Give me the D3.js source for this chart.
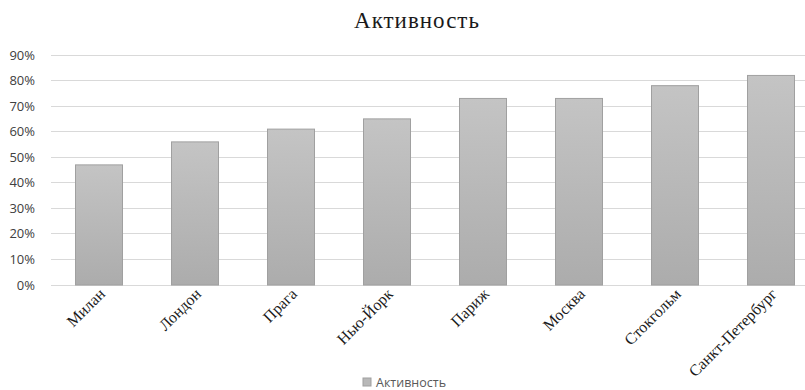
<!DOCTYPE html>
<html><head><meta charset="utf-8">
<script src="https://cdn.jsdelivr.net/npm/d3@7"></script>
<style>body{margin:0;background:#fff}svg{display:block}</style>
</head><body>
<svg id="chart" width="805" height="390"></svg>
<script>
const categories = ["Милан","Лондон","Прага","Нью-Йорк","Париж","Москва","Стокгольм","Санкт-Петербург"];
const values = [0.47,0.56,0.61,0.65,0.73,0.73,0.78,0.82];
const yTicks = [0,0.1,0.2,0.3,0.4,0.5,0.6,0.7,0.8,0.9];
const seriesName = "Активность";
const title = "Активность";

const svg = d3.select("#chart");
const x = d3.scaleBand().domain(categories).range([51, 819]).paddingInner(0.5).paddingOuter(0.25);
const y = d3.scaleLinear().domain([0, 0.9]).range([284.5, 54.5]);

const defs = svg.append("defs");
const grad = defs.append("linearGradient").attr("id","bg").attr("x1",0).attr("y1",0).attr("x2",0).attr("y2",1);
grad.append("stop").attr("offset","0%").attr("stop-color","#c4c4c4");
grad.append("stop").attr("offset","100%").attr("stop-color","#acacac");

svg.append("text").attr("x",417).attr("y",28).attr("text-anchor","middle")
  .attr("font-family","Liberation Serif, serif").attr("font-size",23).attr("letter-spacing",1)
  .attr("fill","#1a1a1a").text(title);

// gridlines
svg.append("g").selectAll("line").data(yTicks).join("line")
  .attr("x1",51).attr("x2",805).attr("y1",d=>Math.round(y(d))+0.5).attr("y2",d=>Math.round(y(d))+0.5)
  .attr("stroke","#d9d9d9").attr("stroke-width",1);

// y axis labels
const yAxis = d3.axisLeft(y).tickValues(yTicks).tickFormat(d3.format(".0%")).tickSize(0).tickPadding(0);
const gy = svg.append("g").attr("transform","translate(35,0)").call(yAxis);
gy.select(".domain").remove();
gy.selectAll("text").attr("font-family","Open Sans, sans-serif").attr("font-size",13).attr("fill","#404040").attr("dy","0.35em");

// bars
svg.append("g").selectAll("rect").data(values).join("rect")
  .attr("x",(d,i)=>x(categories[i])+0.5).attr("y",d=>y(d)+0.5)
  .attr("width",x.bandwidth()-1).attr("height",d=>y(0)-y(d))
  .attr("fill","url(#bg)").attr("stroke","#a0a0a0").attr("stroke-width",1);

// x axis labels
const xAxis = d3.axisBottom(x).tickSize(0).tickPadding(0);
const gx = svg.append("g").attr("transform","translate(0,284)").call(xAxis);
gx.select(".domain").remove();
gx.selectAll("text")
  .attr("font-family","Liberation Serif, serif").attr("font-size",16).attr("fill","#1a1a1a")
  .attr("text-anchor","end").attr("dy",null).attr("y",0)
  .attr("transform","translate(7,11) rotate(-45)");

// legend
const lg = svg.append("g").attr("transform","translate(363,378)");
lg.append("rect").attr("width",8).attr("height",8).attr("fill","#b8b8b8").attr("stroke","#a0a0a0");
lg.append("text").attr("x",13).attr("y",8.5).attr("font-family","Open Sans, sans-serif")
  .attr("font-size",12.5).attr("fill","#595959").text(seriesName);
</script>
</body></html>
